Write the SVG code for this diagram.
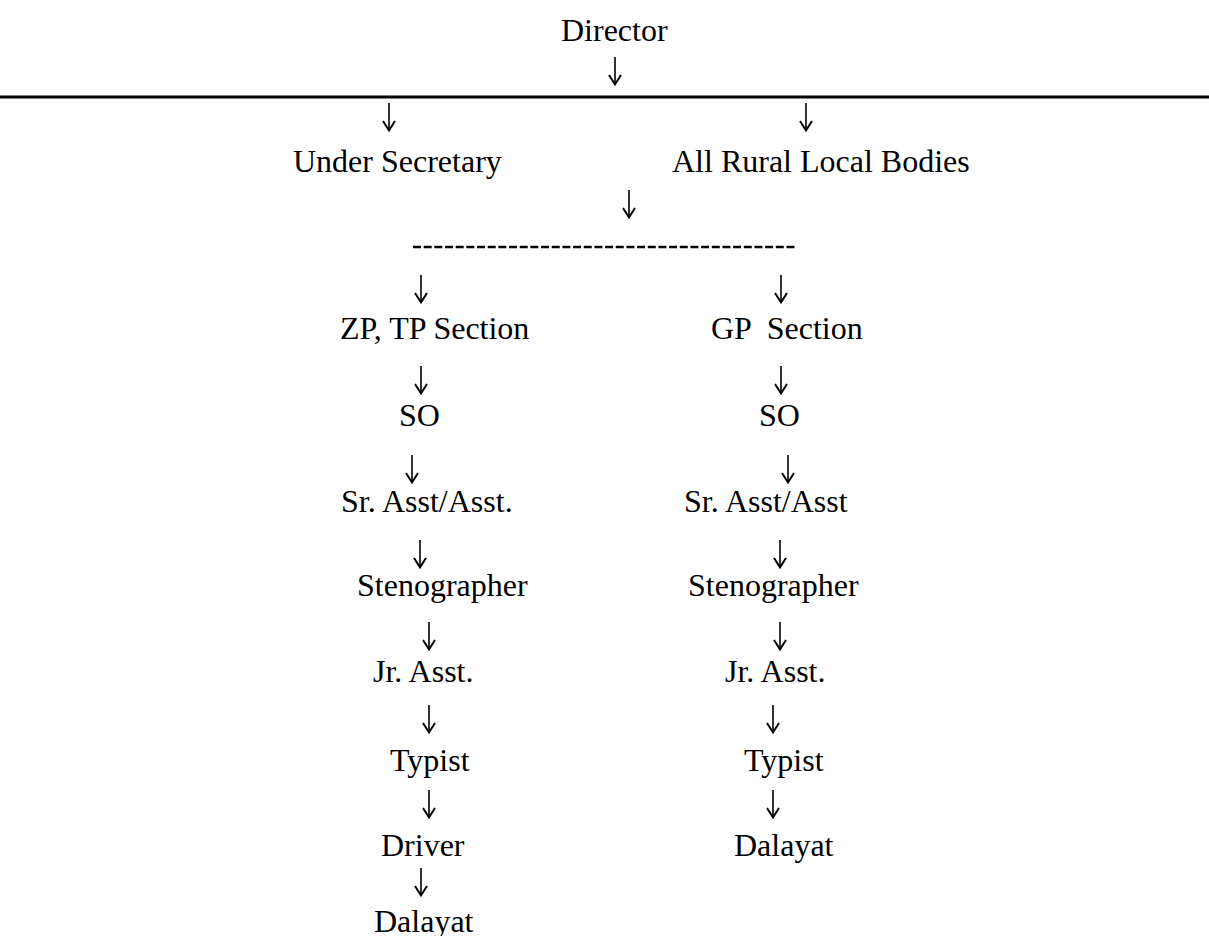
<svg xmlns="http://www.w3.org/2000/svg" width="1209" height="936" viewBox="0 0 1209 936">
<style>
text{font-family:"Liberation Serif","Times New Roman",serif;font-size:32px;fill:#000}
.ar{fill:none;stroke:#000;stroke-width:1.6}
.hd{fill:none;stroke:#000;stroke-width:2;stroke-linejoin:miter}
</style>
<defs>
<g id="arr"><path class="ar" d="M0,0 V27"/><path class="hd" d="M-6,18 L0,27.5 L6,18"/></g>
</defs>
<rect width="1209" height="936" fill="#fff"/>
<g id="connectors">
<use href="#arr" x="615" y="57"/>
<line x1="0" y1="97" x2="1209" y2="97" stroke="#000" stroke-width="3"/>
<use href="#arr" x="389" y="103"/>
<use href="#arr" x="806" y="103"/>
<use href="#arr" x="629" y="190"/>
<line x1="413" y1="247" x2="796" y2="247" stroke="#000" stroke-width="2.5" stroke-dasharray="8 2.67"/>
<use href="#arr" x="421" y="275"/>
<use href="#arr" x="781" y="275"/>
<use href="#arr" x="421" y="366"/>
<use href="#arr" x="781" y="366"/>
<use href="#arr" x="412" y="455"/>
<use href="#arr" x="788" y="455"/>
<use href="#arr" x="420" y="540"/>
<use href="#arr" x="780" y="540"/>
<use href="#arr" x="429" y="622"/>
<use href="#arr" x="780" y="622"/>
<use href="#arr" x="429" y="705"/>
<use href="#arr" x="773" y="705"/>
<use href="#arr" x="429" y="790"/>
<use href="#arr" x="773" y="790"/>
<use href="#arr" x="421" y="868"/>
</g>
<g id="director"><text x="561" y="41">Director</text></g>
<g id="under-secretary"><text x="293" y="172">Under Secretary</text></g>
<g id="rural-bodies"><text x="672" y="172">All Rural Local Bodies</text></g>
<g id="zp-tp-section"><text x="340" y="339">ZP, TP Section</text></g>
<g id="gp-section"><text x="711" y="339" xml:space="preserve">GP  Section</text></g>
<g id="so-left"><text x="399" y="426">SO</text></g>
<g id="so-right"><text x="759" y="426">SO</text></g>
<g id="sr-asst-left"><text x="341" y="512">Sr. Asst/Asst.</text></g>
<g id="sr-asst-right"><text x="684" y="512">Sr. Asst/Asst</text></g>
<g id="steno-left"><text x="357" y="596">Stenographer</text></g>
<g id="steno-right"><text x="688" y="596">Stenographer</text></g>
<g id="jr-asst-left"><text x="373" y="682">Jr. Asst.</text></g>
<g id="jr-asst-right"><text x="725" y="682">Jr. Asst.</text></g>
<g id="typist-left"><text x="390" y="771">Typist</text></g>
<g id="typist-right"><text x="744" y="771">Typist</text></g>
<g id="driver-left"><text x="381" y="856">Driver</text></g>
<g id="dalayat-right"><text x="734" y="856">Dalayat</text></g>
<g id="dalayat-left"><text x="374" y="932">Dalayat</text></g>
</svg>
